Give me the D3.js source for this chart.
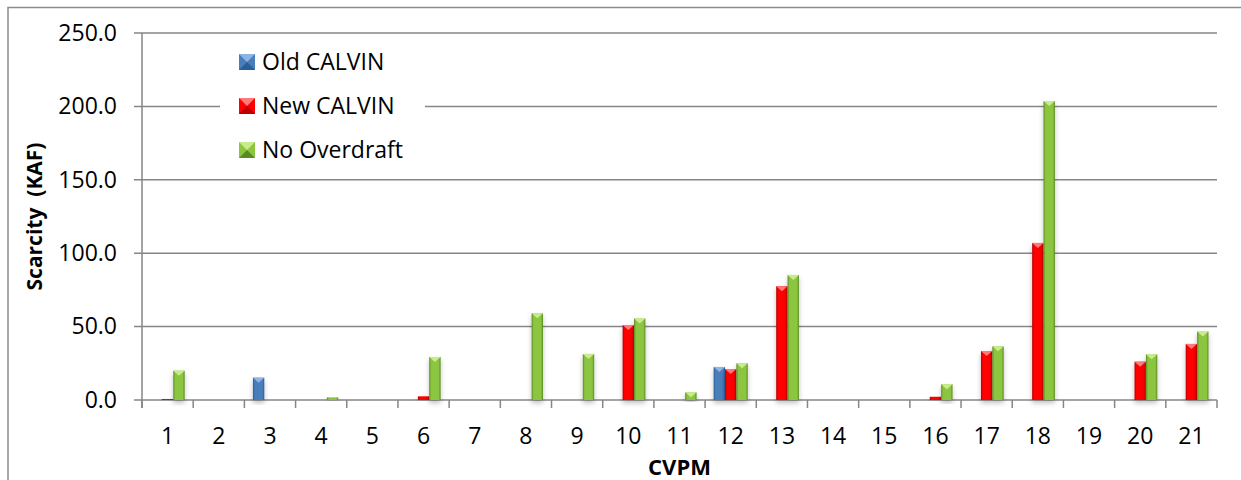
<!DOCTYPE html>
<meta charset="utf-8">
<style>
  body { margin: 0; background: #fff; }
  text { font-family: "Open Sans", "Noto Sans", sans-serif; fill: #000; }
</style>
<svg width="1241" height="480"></svg>
<script src="https://cdn.jsdelivr.net/npm/d3@7"></script>
<script>
  // CVPM regions and scarcity (KAF) for each run
  var categories = ['1', '2', '3', '4', '5', '6', '7', '8', '9', '10', '11',
    '12', '13', '14', '15', '16', '17', '18', '19', '20', '21']
  var oldCalvin = [0, 0, 15.2, 0, 0, 0, 0, 0, 0, 0, 0,
    22.5, 0, 0, 0, 0, 0, 0, 0, 0, 0]
  var newCalvin = [0.7, 0, 0, 0, 0, 2.5, 0, 0, 0, 51.1, 0,
    21.1, 77.5, 0, 0, 2.2, 33.4, 107, 0, 26.1, 38.2]
  var noOverdraft = [20.0, 0, 0, 1.8, 0, 29.3, 0, 59.1, 31.4, 55.5, 5.2,
    25.0, 85.2, 0, 0, 10.7, 36.6, 203.6, 0, 31.1, 46.6]
  var yTicks = [0, 50, 100, 150, 200, 250]

  var series = [
    { name: 'Old CALVIN', values: oldCalvin, base: '#4a7ebb', light: '#8db4e2', dark: '#2c5d94' },
    { name: 'New CALVIN', values: newCalvin, base: '#ff0000', light: '#ff7a7a', dark: '#b80000' },
    { name: 'No Overdraft', values: noOverdraft, base: '#8cc63f', light: '#c8ec8c', dark: '#5b8a24' }
  ]

  var margin = { left: 142, right: 24, top: 33, bottom: 80 }
  var width = 1241, height = 480

  var svg = d3.select('svg')

  // gradients for beveled bars
  var defs = svg.append('defs')
  series.forEach(function (s, i) {
    var g = defs.append('linearGradient').attr('id', 'grad' + i)
      .attr('x1', '0%').attr('x2', '100%').attr('y1', '0%').attr('y2', '0%')
    g.append('stop').attr('offset', '0%').attr('stop-color', s.dark)
    g.append('stop').attr('offset', '18%').attr('stop-color', s.base)
    g.append('stop').attr('offset', '82%').attr('stop-color', s.base)
    g.append('stop').attr('offset', '100%').attr('stop-color', s.dark)
  })
  var shadow = defs.append('filter').attr('id', 'shadow')
    .attr('x', '-50%').attr('y', '-10%').attr('width', '200%').attr('height', '130%')
  shadow.append('feDropShadow').attr('dx', 0).attr('dy', 3)
    .attr('stdDeviation', 2.5).attr('flood-color', '#000').attr('flood-opacity', 0.25)

  // outer chart frame
  svg.append('path')
    .attr('d', 'M8,480V7.5H1241')
    .attr('fill', 'none').attr('stroke', '#8c8c8c').attr('stroke-width', 1.5)

  var x = d3.scaleBand()
    .domain(categories)
    .range([margin.left, width - margin.right])

  var y = d3.scaleLinear()
    .domain([0, 250])
    .range([height - margin.bottom, margin.top])

  var inner = d3.scaleBand()
    .domain(d3.range(series.length))
    .range([0, x.bandwidth()])
    .paddingOuter(0.75)
    .paddingInner(0)

  // gridlines
  svg.append('g').selectAll('line')
    .data(yTicks)
    .enter().append('line')
    .attr('x1', margin.left - 8)
    .attr('x2', width - margin.right)
    .attr('y1', function (d) { return y(d) })
    .attr('y2', function (d) { return y(d) })
    .attr('stroke', '#868686').attr('stroke-width', 1.5)

  // y axis
  var yAxis = svg.append('g')
    .attr('transform', 'translate(' + margin.left + ',0)')
    .call(d3.axisLeft(y).tickValues(yTicks).tickFormat(d3.format('.1f')).tickSize(0).tickPadding(25))
  yAxis.select('.domain').remove()
  yAxis.selectAll('text').attr('font-size', 23).style('font-family', '"Open Sans", sans-serif').attr('fill', '#000')
  svg.append('line')
    .attr('x1', margin.left).attr('x2', margin.left)
    .attr('y1', margin.top).attr('y2', y(0) + 8)
    .attr('stroke', '#868686').attr('stroke-width', 1.5)

  // x axis
  var xAxis = svg.append('g')
    .attr('transform', 'translate(0,' + y(0) + ')')
    .call(d3.axisBottom(x).tickSize(0).tickPadding(28))
  xAxis.select('.domain').remove()
  xAxis.selectAll('text').attr('font-size', 23).style('font-family', '"Open Sans", sans-serif').attr('fill', '#000')
  svg.append('g').selectAll('line')
    .data(d3.range(categories.length + 1))
    .enter().append('line')
    .attr('x1', function (i) { return margin.left + i * x.step() })
    .attr('x2', function (i) { return margin.left + i * x.step() })
    .attr('y1', y(0)).attr('y2', y(0) + 8)
    .attr('stroke', '#868686').attr('stroke-width', 1.5)

  // bars
  var groups = svg.append('g').selectAll('g')
    .data(series)
    .enter().append('g')

  groups.each(function (s, si) {
    var g = d3.select(this)
    var data = s.values.map(function (v, i) { return { cat: categories[i], v: v } })
      .filter(function (d) { return d.v > 0 })
    g.selectAll('rect')
      .data(data)
      .enter().append('rect')
      .attr('x', function (d) { return x(d.cat) + inner(si) })
      .attr('width', inner.bandwidth())
      .attr('y', function (d) { return y(d.v) })
      .attr('height', function (d) { return y(0) - y(d.v) })
      .attr('fill', 'url(#grad' + si + ')')
      .attr('filter', 'url(#shadow)')
    // bevel cap
    g.selectAll('path')
      .data(data.filter(function (d) { return y(0) - y(d.v) > 4 }))
      .enter().append('path')
      .attr('d', function (d) {
        var x0 = x(d.cat) + inner(si), w = inner.bandwidth(), t = y(d.v)
        return 'M' + x0 + ',' + t + 'H' + (x0 + w) + 'L' + (x0 + w / 2) + ',' + (t + 5) + 'Z'
      })
      .attr('fill', s.light)
  })

  // legend
  var legend = svg.append('g').attr('transform', 'translate(220,42)')
  legend.append('rect').attr('width', 205).attr('height', 128).attr('fill', '#fff')
  var item = legend.selectAll('g')
    .data(series)
    .enter().append('g')
    .attr('transform', function (d, i) { return 'translate(19,' + (12 + i * 44) + ')' })
  item.append('rect').attr('width', 16).attr('height', 16)
    .attr('fill', function (d) { return d.base })
  item.append('path').attr('d', 'M0,0H16L8,8Z').attr('fill', function (d) { return d.light })
  item.append('path').attr('d', 'M0,16H16L8,8Z').attr('fill', function (d) { return d.dark })
  item.append('text')
    .attr('x', 23).attr('y', 8).attr('dy', '0.35em')
    .attr('font-size', 23)
    .text(function (d) { return d.name })

  // axis titles
  svg.append('text')
    .attr('x', (margin.left + width - margin.right) / 2)
    .attr('y', 467).attr('dy', '0.35em')
    .attr('text-anchor', 'middle')
    .attr('font-size', 22).attr('font-weight', 'bold')
    .text('CVPM')
  svg.append('text')
    .attr('transform', 'translate(35,' + (y(125)) + ') rotate(-90)')
    .attr('dy', '0.35em')
    .attr('text-anchor', 'middle')
    .attr('font-size', 21).attr('font-weight', 'bold')
    .attr('xml:space', 'preserve')
    .text('Scarcity  (KAF)')
</script>
